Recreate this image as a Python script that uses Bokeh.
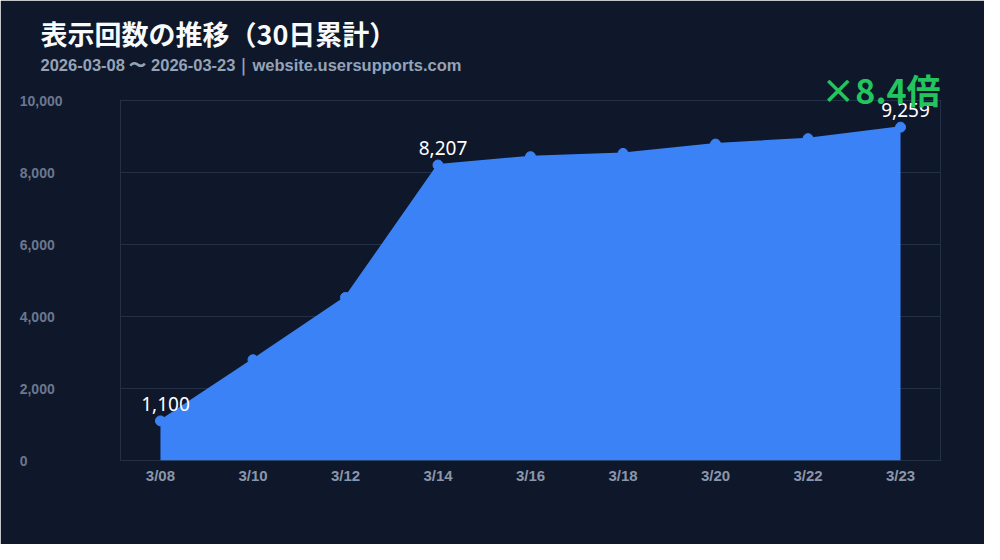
from bokeh.plotting import figure
from bokeh.embed import file_html
from bokeh.resources import INLINE
from bokeh.models import Range1d, FixedTicker, Title
from bokeh.core.properties import value

# data (cumulative views, 30 day window)
dates = ["3/08", "3/10", "3/12", "3/14", "3/16", "3/18", "3/20", "3/22", "3/23"]
views = [1100, 2800, 4530, 8207, 8440, 8530, 8790, 8940, 9259]
labeled_points = [0, 3, 8]
y_ticks = [0, 2000, 4000, 6000, 8000, 10000]

title_text = "表示回数の推移（30日累計）"
subtitle_text = "2026-03-08 〜 2026-03-23｜website.usersupports.com"
growth_text = "×8.4倍"

bg_color = "#0f172a"
grid_color = "#243045"
area_color = "#3b82f6"

idx = list(range(len(dates)))


def pad_label(t):
    # right aligned axis labels padded with figure spaces so they line up on the left
    s = f"{t:,}"
    widest = f"{max(y_ticks):,}"
    missing = widest[len(s):]
    return s + "".join("\u2008" if c == "," else "\u2007" for c in missing)


p = figure(width=984, height=544, output_backend="svg", toolbar_location=None, tools=[],
           title=None,
           x_range=Range1d(-0.432, len(dates) - 1 + 0.432), y_range=Range1d(0, 10000),
           min_border_left=120, min_border_right=44, min_border_top=100, min_border_bottom=84)

p.background_fill_color = bg_color
p.border_fill_color = bg_color
p.outline_line_color = grid_color
p.outline_line_width = 1

#grid
p.xgrid.visible = False
p.ygrid.grid_line_color = grid_color

#y axis
p.yaxis.ticker = FixedTicker(ticks=y_ticks)
p.yaxis.major_label_overrides = {t: pad_label(t) for t in y_ticks}
p.yaxis.axis_line_color = None
p.yaxis.major_tick_line_color = None
p.yaxis.minor_tick_line_color = None
p.yaxis.major_label_standoff = 52
p.yaxis.major_label_text_color = "#6b7890"
p.yaxis.major_label_text_font = "Liberation Sans"
p.yaxis.major_label_text_font_size = "14px"
p.yaxis.major_label_text_font_style = "bold"

#x axis
p.xaxis.ticker = FixedTicker(ticks=idx)
p.xaxis.major_label_overrides = {i: d for i, d in enumerate(dates)}
p.xaxis.axis_line_color = None
p.xaxis.major_tick_line_color = None
p.xaxis.minor_tick_line_color = None
p.xaxis.major_label_standoff = 0
p.xaxis.major_label_text_color = "#8a96ab"
p.xaxis.major_label_text_font = "Liberation Sans"
p.xaxis.major_label_text_font_size = "15px"
p.xaxis.major_label_text_font_style = "bold"

#area + line + points
p.varea(x=idx, y1=[0] * len(idx), y2=views, color=area_color)
p.line(x=idx, y=views, color=area_color, line_width=2)
p.scatter(x=idx, y=views, size=10, color=area_color)

#value labels
p.text(x=[idx[i] for i in labeled_points], y=[views[i] for i in labeled_points],
       text=[f"{views[i]:,}" for i in labeled_points],
       x_offset=5, y_offset=-17, text_align="center", text_baseline="middle",
       text_color="white", text_font=value("Noto Sans"), text_font_size="19px")

#growth badge, subtitle, title (stacked upward from the frame)
p.add_layout(Title(text=growth_text, align="right", standoff=-26,
                   text_color="#22c55e", text_font="Noto Sans CJK JP",
                   text_font_size="34px", text_font_style="bold"), "above")
p.add_layout(Title(text=subtitle_text, align="left", offset=-80, standoff=3,
                   text_color="#94a3b8", text_font="Liberation Sans",
                   text_font_size="16.5px", text_font_style="bold"), "above")
p.add_layout(Title(text=title_text, align="left", offset=-80, standoff=0,
                   text_color="#f8fafc", text_font="Noto Sans CJK JP",
                   text_font_size="27px", text_font_style="bold"), "above")

open("out.html", "w").write(file_html(p, INLINE))
